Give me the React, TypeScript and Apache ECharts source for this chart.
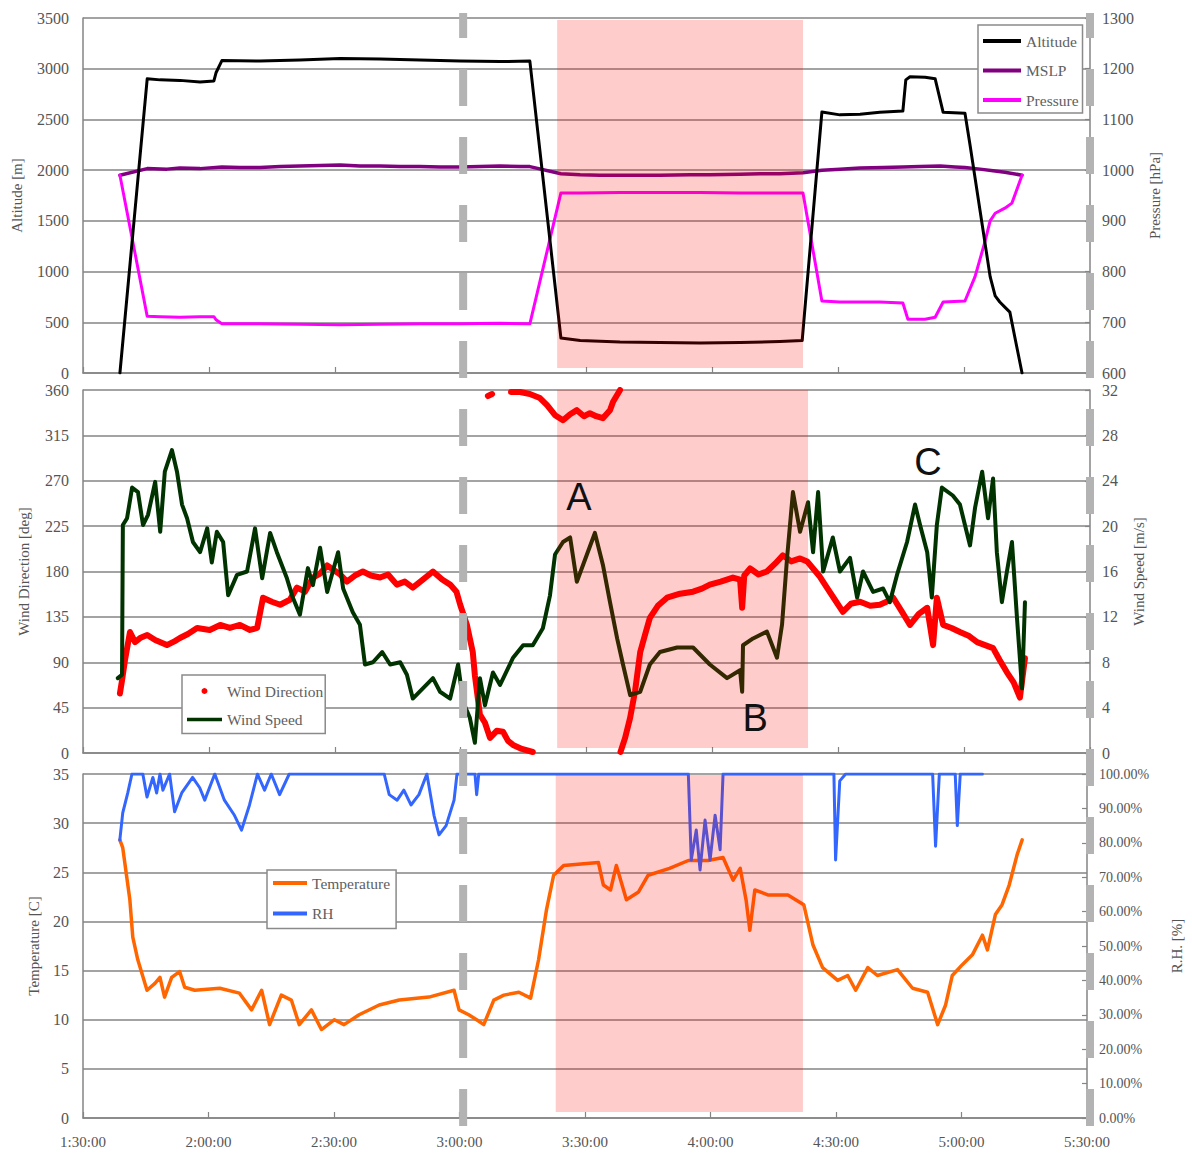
import React, { useEffect, useRef } from 'react';
import * as echarts from 'echarts';

// time values are minutes after 0:00
const timeMin = 90;
const timeMax = 330;
const timeStep = 30;

const altitude: [number, number][] = [
  [98.8, 0], [105.3, 2900], [108.4, 2890], [113.1, 2885], [117.9, 2870], [121.2, 2880], [121.7, 2960], [123.1, 3080],
  [132.2, 3075], [141.7, 3085], [151.3, 3100], [160.8, 3095], [170.3, 3085], [179.9, 3075], [189.4, 3070], [196.5, 3075],
  [203.9, 345], [208.5, 320], [218.0, 305], [227.5, 300], [237.1, 295], [246.6, 300], [256.1, 310], [261.4, 320],
  [266.1, 2573], [270.4, 2545], [275.2, 2550], [279.9, 2570], [285.4, 2583], [286.1, 2890], [287.1, 2920], [290.7, 2915],
  [293.1, 2900], [295.0, 2570], [300.2, 2560], [301.4, 2250], [303.8, 1600], [306.2, 950], [307.4, 760], [308.5, 700],
  [309.7, 650], [310.9, 600], [312.1, 350], [313.8, 0],
];

const mslp: [number, number][] = [
  [98.8, 990], [105.3, 1003], [110.0, 1002], [113.1, 1004], [117.9, 1003], [123.1, 1006], [127.4, 1005], [132.2, 1005],
  [137.0, 1007], [141.7, 1008], [146.5, 1009], [151.3, 1010], [156.0, 1008], [160.8, 1008], [165.6, 1007], [170.3, 1007],
  [175.1, 1006], [179.9, 1006], [184.6, 1007], [189.4, 1008], [194.2, 1007], [196.5, 1007], [203.9, 993], [208.5, 991],
  [213.2, 990], [220.4, 990], [227.5, 990], [234.7, 991], [239.4, 991], [246.6, 992], [251.4, 993], [256.1, 993],
  [261.6, 995], [266.1, 1000], [270.4, 1002], [275.2, 1004], [280.7, 1005], [285.4, 1006], [289.5, 1007], [294.3, 1008],
  [297.8, 1006], [300.2, 1005], [303.8, 1002], [306.9, 999], [309.7, 996], [313.8, 990],
];

const pressure: [number, number][] = [
  [98.8, 990], [105.3, 712], [108.4, 711], [113.1, 710], [117.9, 711], [121.2, 711], [121.7, 705], [123.1, 697],
  [132.2, 697], [141.7, 696], [151.3, 695], [160.8, 696], [170.3, 697], [179.9, 697], [189.4, 698], [196.5, 697],
  [203.9, 955], [208.5, 955], [218.0, 956], [227.5, 956], [237.1, 956], [246.6, 955], [256.1, 955], [261.6, 955],
  [266.1, 742], [270.4, 740], [279.9, 740], [285.4, 738], [286.6, 706], [290.7, 706], [293.1, 710], [295.0, 740],
  [300.2, 742], [302.6, 790], [305.0, 860], [306.2, 900], [307.4, 915], [309.7, 925], [311.4, 935], [313.8, 990],
];

const windDirection: [number, number | string][] = [
  [98.8, 59], [99.3, 72], [100.0, 92], [101.2, 120], [102.4, 110], [103.6, 114], [105.3, 117], [107.2, 112], [110.0, 107],
  [111.9, 111], [113.1, 114], [115.0, 118], [117.2, 124], [120.2, 122], [122.7, 127], [125.0, 124], [127.4, 127],
  [129.8, 122], [131.5, 124], [132.9, 154], [135.0, 150], [137.0, 147], [139.3, 152], [141.0, 164], [142.9, 160],
  [144.8, 174], [146.5, 178], [148.2, 186], [151.3, 177], [152.9, 170], [154.8, 176], [156.7, 180], [158.6, 176],
  [160.8, 174], [162.7, 177], [164.8, 167], [166.7, 170], [168.6, 164], [171.0, 172], [173.4, 180], [175.6, 172],
  [177.5, 167], [179.0, 160], [179.9, 147], [181.5, 127], [182.9, 100], [183.4, 77],
  [184.6, 38], [185.8, 30], [187.0, 15], [188.6, 22], [190.1, 21], [191.3, 12], [192.5, 8], [194.6, 4], [197.2, 1],
  [197.3, '-'],
  [186.5, 354], [187.5, 356],
  [187.6, '-'],
  [192.0, 358], [194.2, 358], [196.5, 356], [198.9, 352], [200.6, 345], [202.5, 335], [204.4, 330], [206.1, 336],
  [207.7, 340], [209.4, 334], [210.8, 337], [212.3, 334], [213.9, 332], [215.6, 340], [216.3, 348], [218.0, 360],
  [218.05, '-'],
  [218.1, 1], [219.2, 15], [220.4, 35], [221.6, 62], [222.8, 100], [224.0, 118], [225.1, 134], [227.0, 146],
  [229.2, 154], [232.3, 158], [235.4, 160], [237.5, 163], [239.4, 167], [242.0, 170], [244.9, 174], [246.6, 172],
  [247.1, 144], [247.6, 176], [249.0, 183], [251.0, 177], [253.0, 180], [255.0, 188], [256.8, 196], [258.8, 190],
  [260.9, 193], [262.6, 190], [264.0, 183], [265.6, 175], [267.3, 164], [269.2, 152], [271.1, 140], [273.0, 148],
  [275.2, 150], [277.6, 146], [279.9, 147], [281.5, 150], [283.1, 154], [285.2, 140], [287.1, 127], [289.2, 138],
  [291.2, 144], [292.6, 107], [293.5, 154], [295.0, 127], [297.0, 124], [299.0, 120], [301.2, 116], [303.1, 110],
  [305.0, 107], [306.9, 104], [308.5, 92], [310.2, 80], [311.8, 70], [313.3, 55], [314.5, 94],
];

const windSpeed: [number, number][] = [
  [98.3, 6.6], [99.3, 6.9], [99.5, 20.1], [100.5, 20.7], [101.7, 23.4], [103.1, 23.0], [104.3, 20.1], [105.5, 21.0],
  [107.2, 23.9], [108.4, 19.5], [109.5, 24.8], [111.2, 26.7], [112.4, 24.8], [113.6, 21.9], [114.8, 20.7], [116.2, 18.6],
  [117.9, 17.7], [119.6, 19.8], [120.7, 16.8], [121.9, 19.5], [123.4, 18.6], [124.6, 13.9], [126.7, 15.7], [129.1, 16.0],
  [131.0, 19.8], [132.7, 15.4], [134.6, 19.4], [136.2, 17.7], [138.6, 15.4], [140.0, 13.7], [141.7, 12.2], [143.6, 16.3],
  [144.8, 14.8], [146.5, 18.1], [148.2, 14.2], [150.8, 17.7], [152.0, 14.5], [154.3, 12.4], [156.0, 11.3], [157.2, 7.8],
  [159.1, 8.0], [161.3, 8.9], [163.2, 7.8], [165.6, 8.0], [167.2, 6.9], [168.6, 4.8], [171.0, 5.7], [173.4, 6.6],
  [175.1, 5.4], [177.5, 4.8], [179.4, 7.8], [180.6, 4.5], [182.2, 3.1], [183.4, 0.9], [184.6, 6.6], [185.8, 4.2],
  [187.7, 7.1], [189.4, 6.0], [192.5, 8.4], [194.9, 9.5], [197.2, 9.5], [199.6, 11.0], [201.3, 13.9], [202.5, 17.5],
  [204.4, 18.6], [206.1, 19.0], [207.7, 15.1], [210.1, 17.5], [212.0, 19.4], [213.9, 16.6], [215.6, 13.3], [217.3, 10.1],
  [218.7, 7.8], [220.4, 5.1], [222.8, 5.4], [225.1, 7.8], [227.5, 8.9], [231.6, 9.3], [235.4, 9.3], [239.4, 7.8],
  [243.5, 6.6], [246.6, 7.3], [247.1, 5.4], [247.3, 9.5], [249.7, 10.1], [253.0, 10.7], [255.4, 8.4], [256.6, 11.3],
  [257.8, 17.2], [259.2, 23.0], [260.9, 19.5], [262.8, 22.1], [264.0, 17.7], [265.2, 23.0], [266.4, 16.0], [268.7, 19.0],
  [270.4, 16.0], [272.8, 17.2], [274.5, 13.7], [275.9, 16.0], [278.3, 14.2], [280.7, 14.5], [282.3, 13.3], [284.0, 15.7],
  [286.4, 18.6], [288.3, 21.9], [289.5, 20.1], [291.2, 17.7], [292.3, 13.7], [293.5, 20.1], [294.7, 23.4], [297.3, 22.7],
  [299.0, 21.9], [301.4, 18.3], [302.6, 21.6], [304.3, 24.8], [305.7, 20.7], [306.9, 24.2], [307.8, 17.7], [309.0, 13.3],
  [310.2, 16.0], [311.4, 18.6], [312.6, 11.9], [313.8, 5.7], [314.5, 13.3],
];

const temperature: [number, number][] = [
  [98.8, 28.3], [99.5, 27.5], [101.2, 22.2], [101.9, 18.4], [103.1, 16.1], [105.3, 13.0], [107.2, 13.7], [108.4, 14.3],
  [109.5, 12.3], [111.2, 14.3], [113.1, 14.9], [114.3, 13.3], [116.7, 13.0], [122.7, 13.2], [127.4, 12.7], [130.3, 11.0],
  [132.7, 13.0], [134.6, 9.5], [137.4, 12.5], [139.8, 12.0], [141.7, 9.5], [144.6, 11.0], [147.0, 9.0], [150.1, 10.0],
  [152.4, 9.5], [156.0, 10.5], [160.8, 11.5], [165.6, 12.0], [172.7, 12.3], [178.7, 13.0], [179.9, 11.0], [182.2, 10.5],
  [184.1, 10.0], [185.8, 9.5], [188.2, 12.0], [190.6, 12.5], [194.2, 12.8], [197.0, 12.2], [198.9, 16.1], [200.8, 21.2],
  [202.5, 24.7], [204.9, 25.7], [213.2, 26.0], [214.4, 23.7], [216.1, 23.2], [217.5, 25.7], [219.9, 22.2], [222.8, 23.0],
  [225.1, 24.7], [230.2, 25.4], [234.7, 26.2], [239.4, 26.2], [243.0, 26.5], [245.4, 24.2], [247.1, 25.4], [248.5, 22.2],
  [249.4, 19.1], [250.6, 23.2], [253.7, 22.7], [258.5, 22.7], [262.3, 21.7], [264.5, 17.6], [266.8, 15.3], [270.4, 14.0],
  [272.8, 14.5], [274.7, 13.0], [277.6, 15.3], [279.9, 14.5], [284.7, 15.1], [288.3, 13.2], [291.9, 12.8], [294.3, 9.5],
  [296.2, 11.5], [297.8, 14.5], [300.2, 15.6], [302.6, 16.6], [305.0, 18.6], [306.2, 17.1], [308.1, 20.7], [309.7, 21.7],
  [311.4, 23.7], [313.3, 26.8], [314.5, 28.3],
];

const relativeHumidity: [number, number][] = [
  [98.8, 80.8], [99.5, 88.7], [100.7, 94.5], [101.7, 100], [104.3, 100], [105.3, 93.3], [106.7, 99], [107.6, 94.5],
  [108.4, 100], [109.1, 95.3], [110.7, 100], [111.9, 89], [113.6, 94.5], [116.2, 99], [117.9, 96], [119.1, 92.4],
  [121.5, 100], [123.8, 92.4], [126.2, 88], [127.9, 83.7], [129.8, 91], [131.7, 100], [133.4, 95.3], [135.0, 100],
  [137.0, 94], [139.3, 100], [162.0, 100], [163.2, 94], [165.1, 92.4], [166.7, 95.3], [168.4, 91], [170.3, 94],
  [172.2, 100], [173.9, 88], [175.1, 82.3], [176.8, 85], [178.7, 92.4], [179.4, 100], [183.7, 100], [184.1, 94],
  [184.6, 100], [234.7, 100], [235.4, 75], [236.6, 83.7], [237.5, 72.1], [238.7, 86.6], [239.9, 75], [241.1, 88],
  [242.3, 78], [243.0, 100], [269.5, 100], [269.9, 75], [270.9, 98], [272.3, 100], [293.1, 100], [293.8, 79],
  [294.7, 100], [298.5, 100], [299.0, 85], [299.7, 100], [305.0, 100],
];

// shaded period, per panel (values on each panel's left axis)
const shadeStart = [203.0, 203.0, 203.0];
const shadeEnd = [261.6, 262.8, 262.1];
const shadeLow = [50, 5, 0.6];
const shadeHigh = [3480, 360, 34.9];

const dashedTimes = [180.6, 330];

const annotationText = ['A', 'B', 'C'];
const annotationTime = [208.2, 250.2, 291.4];
const annotationDir = [254, 35, 289];

const SERIF = '"Liberation Serif", "Times New Roman", serif';
const GRID_COLOR = '#858585';
const LABEL_COLOR = '#555555';

const fmtTime = (m: number) => `${Math.floor(m / 60)}:${String(Math.round(m % 60)).padStart(2, '0')}:00`;
const plain = (v: number) => String(v);

const grids = [
  { left: 83, top: 18, width: 1007, height: 355 },
  { left: 83, top: 390, width: 1007, height: 363 },
  { left: 83, top: 774, width: 1007, height: 344 },
];

function xAxisFor(i: number) {
  return {
    type: 'value',
    gridIndex: i,
    min: timeMin,
    max: timeMax,
    interval: timeStep,
    axisLine: { show: true, onZero: false, lineStyle: { color: GRID_COLOR, width: 1.5 } },
    axisTick: { show: true, inside: true, length: 6, lineStyle: { color: GRID_COLOR, width: 1.2 } },
    splitLine: { show: false },
    axisLabel: {
      show: i === 2,
      formatter: fmtTime,
      fontFamily: SERIF,
      fontSize: 15,
      color: LABEL_COLOR,
      margin: 16,
    },
  };
}

function yAxisFor(
  grid: number,
  side: 'left' | 'right',
  min: number,
  max: number,
  interval: number,
  name: string,
  nameGap: number,
  formatter: (v: number) => string = plain,
  fontSize = 16,
) {
  return {
    type: 'value',
    gridIndex: grid,
    position: side,
    min,
    max,
    interval,
    name,
    nameLocation: 'middle',
    nameRotate: 90,
    nameGap,
    nameTextStyle: { fontFamily: SERIF, fontSize: 15, color: LABEL_COLOR },
    axisLine: { show: true, lineStyle: { color: GRID_COLOR, width: 1.5 } },
    axisTick: { show: side === 'right', inside: true, length: 5, lineStyle: { color: GRID_COLOR, width: 1.2 } },
    splitLine: { show: side === 'left', lineStyle: { color: GRID_COLOR, width: 1.5 } },
    axisLabel: {
      fontFamily: SERIF,
      fontSize,
      color: LABEL_COLOR,
      margin: side === 'left' ? 14 : 12,
      formatter,
    },
  };
}

function shadeArea(i: number) {
  return {
    silent: true,
    z: 10,
    itemStyle: { color: 'rgba(255,0,0,0.2)', borderWidth: 0 },
    label: { show: false },
    data: [[{ xAxis: shadeStart[i], yAxis: shadeLow[i] }, { xAxis: shadeEnd[i], yAxis: shadeHigh[i] }]],
  };
}

const lineSeries = (
  name: string,
  data: any[],
  xAxisIndex: number,
  yAxisIndex: number,
  color: string,
  width: number,
  extra: any = {},
) => ({
  name,
  type: 'line',
  xAxisIndex,
  yAxisIndex,
  data,
  symbol: 'none',
  showSymbol: false,
  connectNulls: false,
  lineStyle: { color, width, join: 'round', cap: 'round' },
  itemStyle: { color },
  ...extra,
});

const legendBase = {
  orient: 'vertical',
  selectedMode: false,
  backgroundColor: '#ffffff',
  borderColor: '#8a8a8a',
  borderWidth: 1.5,
  borderRadius: 0,
  textStyle: { fontFamily: SERIF, fontSize: 15.5, color: '#606060' },
};

const LINE_ICON = 'path://M0 0H40V4H0Z';

const option: any = {
  animation: false,
  backgroundColor: '#ffffff',
  grid: grids,
  xAxis: [xAxisFor(0), xAxisFor(1), xAxisFor(2)],
  yAxis: [
    yAxisFor(0, 'left', 0, 3500, 500, 'Altitude [m]', 59),
    yAxisFor(0, 'right', 600, 1300, 100, 'Pressure [hPa]', 57),
    yAxisFor(1, 'left', 0, 360, 45, 'Wind Direction [deg]', 52),
    yAxisFor(1, 'right', 0, 32, 4, 'Wind Speed [m/s]', 41),
    yAxisFor(2, 'left', 0, 35, 5, 'Temperature [C]', 42),
    yAxisFor(2, 'right', 0, 100, 10, 'R.H. [%]', 82, (v: number) => v.toFixed(2) + '%', 14),
  ],
  legend: [
    {
      ...legendBase,
      left: 978,
      top: 25,
      itemWidth: 38,
      itemHeight: 4,
      itemGap: 13.5,
      padding: [8, 4, 5, 5],
      data: [
        { name: 'Altitude', icon: 'rect' },
        { name: 'MSLP', icon: 'rect' },
        { name: 'Pressure', icon: 'rect' },
      ],
    },
    {
      ...legendBase,
      left: 182,
      top: 675,
      itemWidth: 35,
      itemHeight: 6,
      itemGap: 12.5,
      padding: [8, 2, 6, 5],
      data: [
        { name: 'Wind Direction', icon: 'circle' },
        { name: 'Wind Speed', icon: LINE_ICON },
      ],
    },
    {
      ...legendBase,
      left: 267,
      top: 870,
      itemWidth: 34,
      itemHeight: 4,
      itemGap: 14.5,
      padding: [5, 6, 7, 6],
      data: [
        { name: 'Temperature', icon: 'rect' },
        { name: 'RH', icon: 'rect' },
      ],
    },
  ],
  series: [
    lineSeries('MSLP', mslp, 0, 1, '#800080', 3.5),
    lineSeries('Pressure', pressure, 0, 1, '#ff00ff', 3),
    lineSeries('Altitude', altitude, 0, 0, '#000000', 3, { markArea: shadeArea(0) }),
    lineSeries('Wind Direction', windDirection, 1, 2, '#ff0000', 6, { markArea: shadeArea(1) }),
    lineSeries('Wind Speed', windSpeed, 1, 3, '#003300', 4),
    lineSeries('Temperature', temperature, 2, 4, '#ff6600', 3.5, { markArea: shadeArea(2) }),
    lineSeries('RH', relativeHumidity, 2, 5, '#3366ff', 3),
  ],
};

export default function App() {
  const ref = useRef<HTMLDivElement>(null);
  useEffect(() => {
    if (!ref.current) return;
    const chart = echarts.init(ref.current, undefined, { renderer: 'svg' });
    chart.setOption(option);

    const graphics: any[] = [];
    dashedTimes.forEach((t) => {
      const x = chart.convertToPixel({ xAxisIndex: 0 }, t) as number;
      graphics.push({
        type: 'line',
        silent: true,
        z: 100,
        shape: { x1: x, y1: 13, x2: x, y2: 1132 },
        style: { stroke: '#b3b3b3', lineWidth: 8, lineDash: [37, 31], lineDashOffset: 12 },
      });
    });
    annotationText.forEach((txt, i) => {
      const x = chart.convertToPixel({ xAxisIndex: 1 }, annotationTime[i]) as number;
      const y = chart.convertToPixel({ yAxisIndex: 2 }, annotationDir[i]) as number;
      graphics.push({
        type: 'text',
        silent: true,
        z: 110,
        x,
        y,
        style: {
          text: txt,
          fontSize: 38,
          fontFamily: '"Liberation Sans", Arial, sans-serif',
          fill: '#111111',
          align: 'center',
          verticalAlign: 'middle',
        },
      });
    });
    chart.setOption({ graphic: graphics });

    return () => chart.dispose();
  }, []);

  return (
    <div
      ref={ref}
      style={{ position: 'absolute', left: 0, top: 0, width: 1192, height: 1156 }}
    />
  );
}
